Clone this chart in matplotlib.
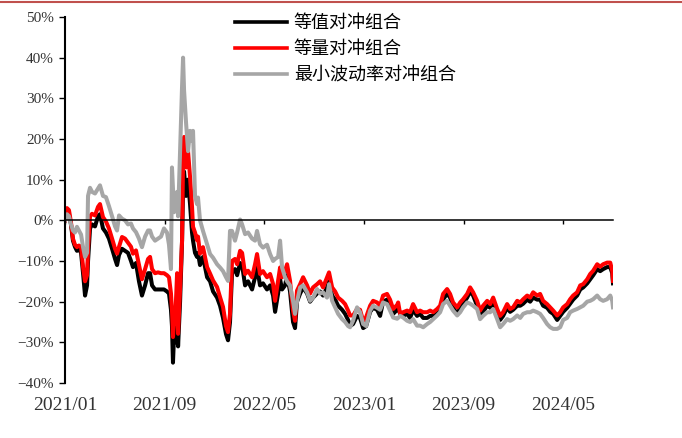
import matplotlib
matplotlib.use("Agg")
import matplotlib.pyplot as plt
from matplotlib.lines import Line2D

plt.rcParams['font.family'] = ['Noto Sans CJK SC', 'DejaVu Sans']

# months since 2021/01
months = [0, 0.16, 0.32, 0.48, 0.64, 0.80, 0.96, 1.12, 1.29, 1.45, 1.61, 1.77, 1.85, 2.01, 2.17,
          2.41, 2.65, 2.81, 3.05, 3.29, 3.53, 3.78, 4.02, 4.18, 4.34, 4.58, 4.82, 5.06, 5.30, 5.46,
          5.70, 5.94, 6.18, 6.43, 6.67, 6.83, 6.99, 7.23, 7.47, 7.71, 7.95, 8.19, 8.35, 8.51, 8.59,
          8.67, 8.76, 8.84, 9.00, 9.08, 9.24, 9.40, 9.48, 9.56, 9.72, 9.88, 10.04, 10.20, 10.28, 10.44,
          10.60, 10.68, 10.84, 11.08, 11.41, 11.65, 11.89, 12.21, 12.45, 12.69, 12.93, 13.09, 13.25, 13.41, 13.65,
          13.82, 14.06, 14.22, 14.46, 14.70, 15.02, 15.26, 15.42, 15.66, 15.90, 16.22, 16.47, 16.71, 16.87, 17.11,
          17.27, 17.43, 17.67, 17.83, 18.07, 18.31, 18.47, 18.63, 18.88, 19.12, 19.44, 19.68, 19.92, 20.24, 20.48,
          20.72, 21.04, 21.20, 21.45, 21.69, 21.93, 22.25, 22.49, 22.73, 22.89, 23.13, 23.45, 23.69, 23.94, 24.18,
          24.50, 24.74, 25.06, 25.30, 25.54, 25.86, 26.10, 26.35, 26.67, 26.75, 26.91, 27.15, 27.47, 27.71, 27.95,
          28.27, 28.51, 28.76, 29.08, 29.32, 29.56, 29.88, 30.12, 30.36, 30.68, 30.92, 31.16, 31.49, 31.73, 31.97,
          32.29, 32.53, 32.77, 33.09, 33.33, 33.57, 33.90, 34.14, 34.38, 34.70, 34.94, 35.18, 35.50, 35.74, 35.98,
          36.31, 36.55, 36.79, 37.11, 37.35, 37.59, 37.91, 38.15, 38.39, 38.71, 38.96, 39.20, 39.52, 39.76, 40.00,
          40.32, 40.56, 40.80, 41.12, 41.37, 41.61, 41.93, 42.17, 42.41, 42.73, 42.97, 43.21, 43.53, 43.78, 43.94,
          44.0]

equal_value = [0, 2.0, 1.5, -1.0, -5.0, -6.5, -7.5, -7.0, -8.0, -13.0, -18.5, -16.0, -10.0, -2.0, -1.0,
               -1.5, 1.0, 1.5, -2.0, -3.0, -4.5, -7.0, -9.5, -11.0, -8.5, -7.0, -7.5, -8.0, -10.0, -11.5,
               -10.5, -15.0, -18.5, -16.0, -13.0, -13.0, -16.0, -17.0, -17.0, -17.0, -17.0, -17.5, -18.0, -22.0, -26.0,
               -35.0, -28.0, -30.0, -18.0, -31.0, -20.0, -5.0, 8.0, 12.0, 6.0, 10.0, 4.0, -3.0, -5.0, -8.0,
               -9.0, -8.0, -11.0, -9.0, -14.0, -15.0, -17.5, -19.0, -21.0, -24.0, -28.0, -29.5, -25.0, -13.0, -12.0,
               -13.5, -10.5, -11.0, -16.0, -15.0, -17.0, -14.0, -11.5, -16.0, -15.5, -17.0, -16.0, -18.5, -22.5, -18.0,
               -14.5, -17.0, -16.0, -13.5, -17.5, -25.0, -26.5, -20.0, -18.0, -16.5, -18.0, -20.0, -19.0, -18.0, -17.5,
               -18.5, -16.5, -15.0, -18.5, -19.5, -21.0, -22.0, -23.0, -24.5, -26.0, -25.5, -23.5, -24.0, -26.5, -26.0,
               -22.5, -21.5, -22.0, -23.5, -20.0, -19.5, -21.0, -23.0, -22.0, -21.5, -23.0, -23.5, -23.0, -24.0, -22.0,
               -23.5, -23.0, -24.0, -24.0, -23.5, -23.5, -22.5, -21.5, -19.5, -18.0, -19.0, -21.5, -23.0, -21.5, -20.5,
               -19.0, -17.5, -18.5, -21.0, -23.0, -22.5, -21.0, -21.5, -20.0, -23.0, -24.5, -23.5, -21.5, -22.5, -22.0,
               -21.0, -21.0, -20.5, -19.5, -20.0, -19.0, -19.5, -19.5, -21.0, -21.5, -22.5, -23.0, -24.5, -23.5, -22.5,
               -21.5, -20.5, -19.5, -18.5, -17.0, -16.5, -15.5, -14.5, -13.5, -12.0, -12.5, -12.0, -11.5, -11.5, -13.0,
               -15.5]

equal_qty = [0, 3.0, 2.5, -0.5, -4.5, -6.0, -6.6, -6.2, -6.5, -11.5, -15.0, -13.5, -7.0, 1.0, 1.6,
             1.2, 3.3, 4.0, 0.8, -0.3, -2.0, -4.5, -7.0, -8.2, -6.5, -4.1, -4.5, -5.5, -6.5, -8.2,
             -7.4, -11.0, -14.5, -12.0, -9.5, -9.0, -12.0, -13.0, -12.8, -13.0, -13.0, -13.5, -14.0, -18.0, -22.0,
             -28.7, -25.0, -25.4, -13.0, -27.9, -17.0, -4.9, 15.0, 20.5, 13.0, 17.0, 10.7, 3.3, -1.6, -3.0,
             -4.9, -4.0, -8.2, -6.6, -11.5, -13.1, -14.8, -16.4, -18.9, -21.3, -26.0, -27.5, -23.0, -10.0, -9.5,
             -10.8, -7.5, -8.0, -13.2, -12.4, -14.0, -10.8, -8.3, -13.2, -12.5, -14.0, -13.2, -15.7, -19.8, -14.9,
             -11.6, -14.0, -12.5, -10.8, -14.9, -22.2, -24.7, -17.3, -15.7, -14.0, -16.0, -18.0, -16.5, -15.7, -15.0,
             -16.5, -14.0, -12.8, -16.5, -17.5, -19.0, -19.8, -20.6, -22.2, -23.4, -23.4, -21.8, -22.0, -24.7, -23.8,
             -21.0, -19.8, -20.2, -21.0, -18.5, -18.1, -19.5, -21.8, -20.8, -20.2, -23.0, -22.6, -22.2, -22.6, -20.6,
             -22.6, -22.2, -22.6, -22.6, -22.2, -22.6, -21.8, -21.0, -18.1, -16.9, -18.1, -20.2, -21.4, -20.2, -19.4,
             -18.1, -16.5, -17.7, -19.8, -22.2, -21.0, -19.8, -20.6, -19.0, -21.8, -23.5, -22.6, -20.6, -21.8, -21.4,
             -19.8, -20.2, -19.4, -18.5, -19.0, -17.7, -18.5, -18.1, -19.8, -20.6, -21.4, -22.2, -23.4, -22.6, -21.4,
             -20.6, -19.4, -18.5, -17.7, -16.0, -15.7, -14.5, -13.2, -12.4, -10.8, -11.4, -10.8, -10.4, -10.4, -12.4,
             -14.9]

min_vol = [0, 1.5, 1.0, -1.0, -2.5, -3.0, -1.6, -2.5, -3.5, -6.6, -9.0, -8.0, 6.0, 8.0, 7.0,
           6.6, 7.8, 8.6, 6.0, 5.7, 3.5, 1.0, -1.5, -2.5, 1.2, 0.4, 0.0, -1.0, -0.8, -2.0,
           -2.9, -4.5, -6.6, -4.0, -2.5, -2.5, -4.0, -5.0, -4.5, -4.0, -2.0, -3.0, -6.0, -12.0, 13.0,
           8.0, 2.0, 4.0, 7.0, 1.0, 17.0, 33.0, 40.0, 32.0, 24.0, 17.0, 22.0, 19.5, 22.0, 6.0,
           4.0, 5.6, 0.0, -2.6, -5.9, -8.3, -9.2, -10.8, -11.6, -12.5, -14.0, -14.9, -2.6, -2.6, -5.0,
           -3.0, 0.2, -1.0, -3.4, -3.0, -4.5, -5.0, -2.6, -5.9, -6.7, -6.0, -8.3, -10.0, -9.5, -9.0,
           -5.0, -11.6, -14.0, -15.0, -16.0, -19.8, -23.0, -20.0, -16.5, -16.0, -17.7, -19.8, -19.0, -16.9, -18.0,
           -17.7, -19.0, -15.7, -19.8, -21.4, -23.0, -24.3, -25.0, -26.0, -26.3, -24.7, -21.4, -22.6, -25.5, -26.0,
           -22.2, -21.0, -21.5, -22.0, -20.2, -20.6, -22.2, -23.9, -24.2, -24.0, -23.5, -23.9, -24.7, -25.0, -24.3,
           -25.9, -25.9, -26.3, -25.5, -25.0, -24.3, -23.4, -22.6, -20.6, -19.8, -21.0, -22.2, -23.4, -22.6, -21.4,
           -20.2, -20.5, -21.0, -21.8, -24.3, -23.5, -22.6, -22.6, -21.8, -24.3, -26.3, -25.5, -24.3, -24.7, -24.3,
           -23.4, -24.0, -23.0, -22.6, -22.6, -22.2, -22.6, -23.0, -24.0, -25.5, -26.3, -26.7, -26.7, -26.3, -24.5,
           -24.0, -22.6, -22.2, -21.8, -21.4, -21.0, -20.0, -19.8, -19.4, -18.5, -19.4, -19.8, -19.4, -18.5, -19.8,
           -21.4]

series_names = ['等值对冲组合', '等量对冲组合', '最小波动率对冲组合']
series_colors = ['#000000', '#FF0000', '#A6A6A6']
tick_months = [0, 8, 16, 24, 32, 40]
tick_labels = ['2021/01', '2021/09', '2022/05', '2023/01', '2023/09', '2024/05']
y_ticks = [-40, -30, -20, -10, 0, 10, 20, 30, 40, 50]

fig = plt.figure(figsize=(6.82, 4.38), dpi=100)
ax = fig.add_axes([0.0953, 0.1256, 0.8035, 0.8356])

for vals, name, col in zip([equal_value, equal_qty, min_vol], series_names, series_colors):
    ax.plot(months, vals, color=col, lw=2.9, label=name, solid_joinstyle='round')

ax.set_xlim(0, 44)
ax.set_ylim(-40, 50)
ax.set_yticks(y_ticks)
ax.set_yticklabels([f'{v}%'.replace('-', '\u2212') for v in y_ticks],
                   fontfamily='Liberation Serif', fontsize=11, color='#333333')
ax.tick_params(axis='y', direction='out', length=4, width=1, pad=4)

ax.spines['top'].set_visible(False)
ax.spines['right'].set_visible(False)
ax.spines['left'].set_linewidth(1.5)
ax.spines['bottom'].set_position(('data', 0))
ax.spines['bottom'].set_linewidth(1.1)
ax.set_xticks(tick_months)
ax.tick_params(axis='x', direction='out', length=3, width=1, labelbottom=False)

sec = ax.secondary_xaxis('bottom')
sec.set_xticks(tick_months)
sec.set_xticklabels(tick_labels, fontfamily='Liberation Serif', fontsize=14, color='#333333')
sec.spines['bottom'].set_visible(False)
sec.tick_params(length=0, pad=10)

leg = ax.legend(loc='upper left', bbox_to_anchor=(235 / 682, 1 - 14 / 438), bbox_transform=fig.transFigure,
                frameon=False, fontsize=13, handlelength=2.9, handletextpad=0.35, labelspacing=0.45,
                borderpad=0, borderaxespad=0)
for h in leg.get_lines():
    h.set_linewidth(2.6)

fig.add_artist(Line2D([0, 1], [1 - 2 / 438, 1 - 2 / 438], color='#C0504D', lw=1.5,
                      transform=fig.transFigure))

fig.savefig('out.png', dpi=100)
